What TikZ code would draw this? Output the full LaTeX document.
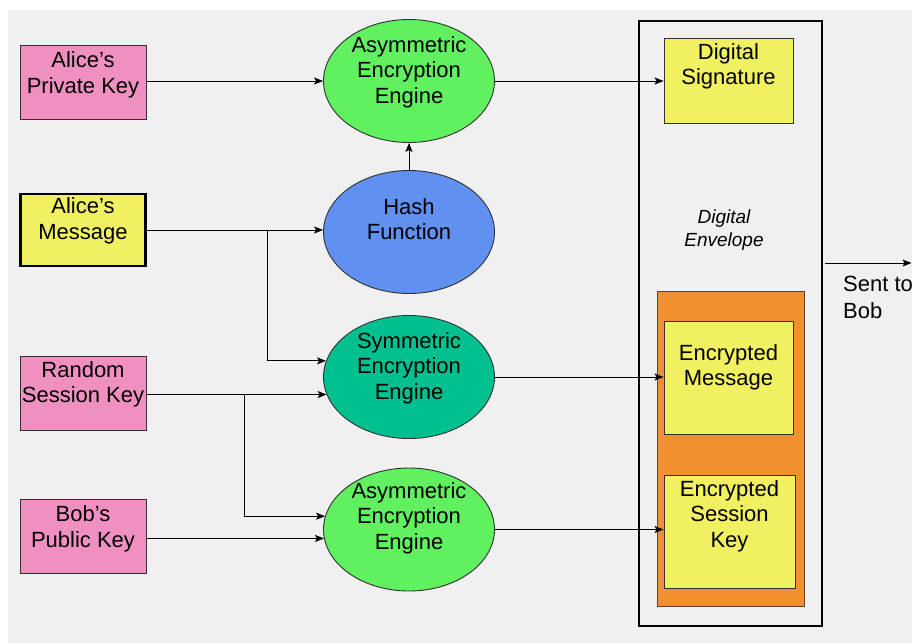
\documentclass[tikz,border=0pt]{standalone}
\usepackage{fontspec}
\setmainfont{Liberation Sans}
\usetikzlibrary{arrows.meta,shapes.geometric}

\definecolor{bgfill}{HTML}{F0F0F0}
\definecolor{keypink}{HTML}{F090C0}
\definecolor{msgyellow}{HTML}{F0F060}
\definecolor{asymgreen}{HTML}{60F060}
\definecolor{hashblue}{HTML}{6090F0}
\definecolor{symteal}{HTML}{00C090}
\definecolor{envorange}{HTML}{F09030}
\definecolor{edge}{HTML}{303030}

\tikzset{
  box/.style={rectangle, draw=edge, line width=0.9pt, inner sep=0pt},
  keybox/.style={box, fill=keypink, minimum width=126pt, minimum height=74pt},
  yellowbox/.style={box, fill=msgyellow, minimum width=129pt},
  engine/.style={ellipse, draw=edge, line width=0.9pt, inner sep=0pt,
                 minimum width=171pt, minimum height=123pt},
  txt/.style={align=center, inner sep=0pt, font=\fontsize{22}{25.5}\selectfont},
  arr/.style={draw=black, line width=0.9pt,
              -{Stealth[length=9pt,width=7pt,inset=2pt]}},
  wire/.style={draw=black, line width=0.9pt}
}

\begin{document}
\begin{tikzpicture}[x=1pt,y=-1pt]
  \useasboundingbox (0,0) rectangle (912,643);
  \fill[bgfill] (8,10) rectangle (912,643);

  % input boxes on the left
  \node[keybox] (pk) at (83,82.5) {};
  \node[txt] (pk-t) at (83,75) {Alice’s\\Private Key};
  \node[box, fill=msgyellow, draw=black, line width=2.4pt,
        minimum width=125pt, minimum height=72pt] (msg) at (83,230) {};
  \node[txt] (msg-t) at (83,221) {Alice’s\\Message};
  \node[keybox] (rsk) at (83,393) {};
  \node[txt] (rsk-t) at (83,384.5) {Random\\Session Key};
  \node[keybox] (bpk) at (83,536.5) {};
  \node[txt] (bpk-t) at (83,529) {Bob’s\\Public Key};

  % processing engines
  \node[engine, fill=asymgreen] (ae1) at (409,81) {};
  \node[txt] (ae1-t) at (409,72) {Asymmetric\\Encryption\\Engine};
  \node[engine, fill=hashblue] (hash) at (409,232) {};
  \node[txt] (hash-t) at (409,219) {Hash\\Function};
  \node[engine, fill=symteal] (sym) at (409,377) {};
  \node[txt] (sym-t) at (409,368) {Symmetric\\Encryption\\Engine};
  \node[engine, fill=asymgreen] (ae2) at (409,529.5) {};
  \node[txt] (ae2-t) at (409,518) {Asymmetric\\Encryption\\Engine};

  % digital envelope
  \node[rectangle, draw=black, line width=2.4pt, inner sep=0pt,
        minimum width=183pt, minimum height=605pt] (env) at (730.5,323.5) {};
  \node[box, fill=envorange, draw=edge!80!envorange,
        minimum width=147pt, minimum height=315pt] (orange) at (730.5,448.5) {};
  \node[yellowbox, minimum height=85pt] (sig) at (728.5,80.5) {};
  \node[txt] (sig-t) at (728.5,66.5) {Digital\\Signature};
  \node[txt, font=\fontsize{19}{23}\selectfont\itshape] (env-t) at (724,230) {Digital\\Envelope};
  \node[yellowbox, minimum height=113pt] (em) at (728.5,377.5) {};
  \node[txt] (em-t) at (728.5,367.5) {Encrypted\\Message};
  \node[yellowbox, minimum width=131pt, minimum height=113pt] (esk) at (729.5,531.5) {};
  \node[txt] (esk-t) at (729.5,516) {Encrypted\\Session\\Key};

  % output to Bob
  \coordinate (out-a) at (825,263);
  \coordinate (out-b) at (911.5,263);
  \draw[arr] (out-a) -- (out-b);
  \node[txt, align=left, anchor=west, font=\fontsize{22}{27}\selectfont]
       (sent-t) at (843,297) {Sent to\\Bob};

  % connectors
  \draw[arr] (pk.east |- ae1.west) -- (ae1.west);
  \draw[arr] (ae1.east) -- (ae1.east -| sig.west);
  \draw[arr] (hash) -- (ae1);

  \coordinate (b1) at (267,230);
  \draw[arr] (msg.east) -- (msg.east -| hash.west);
  \draw[arr] (b1) |- (sym.169);

  \coordinate (b2) at (244,395);
  \draw[arr] (rsk.east |- sym.192) -- (sym.192);
  \draw[arr] (b2) |- (ae2.171);
  \draw[arr] (bpk.east |- ae2.186) -- (ae2.186);

  \draw[arr] (sym.east) -- (sym.east -| em.west);
  \draw[arr] (ae2.east) -- (ae2.east -| esk.west);
\end{tikzpicture}
\end{document}
